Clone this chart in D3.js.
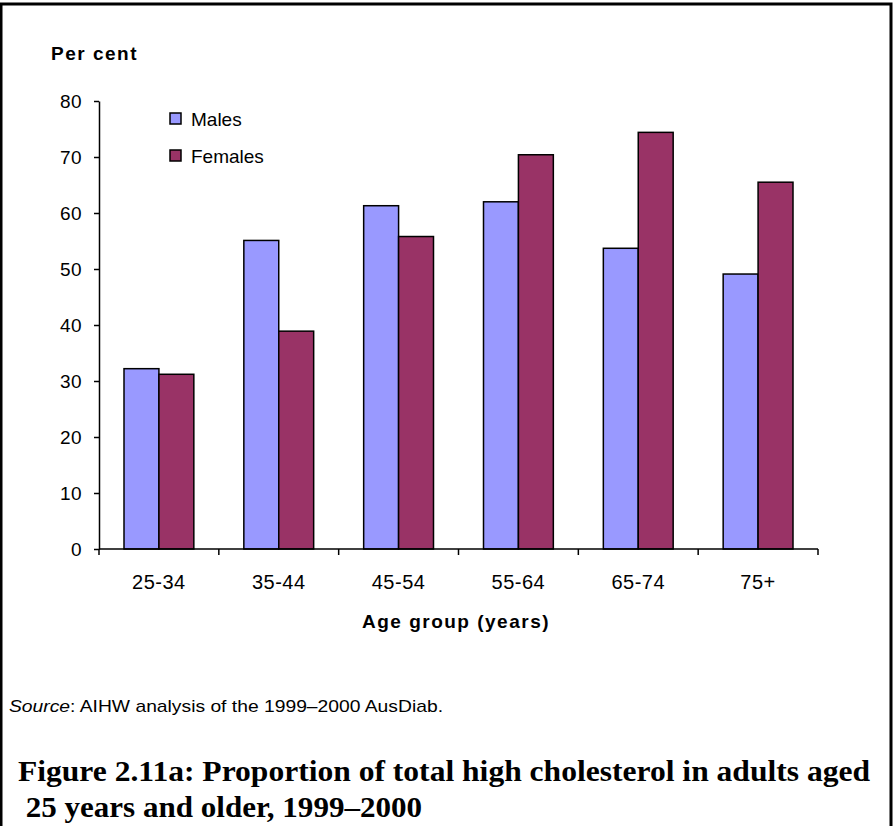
<!DOCTYPE html>
<html>
<head>
<meta charset="utf-8">
<script src="https://cdn.jsdelivr.net/npm/d3@7"></script>
<style>
  body { margin: 0; background: #fff; }
  svg { display: block; }
</style>
</head>
<body>
<div id="chart"></div>
<script>
const ageGroups = ["25-34", "35-44", "45-54", "55-64", "65-74", "75+"];
const males = [32.2, 55.1, 61.3, 62.0, 53.7, 49.1];
const females = [31.2, 38.9, 55.8, 70.4, 74.4, 65.5];
const seriesNames = ["Males", "Females"];
const yTicks = [0, 10, 20, 30, 40, 50, 60, 70, 80];

const width = 893;
const height = 826;
const colors = ["#9999ff", "#993366"];
const sans = "Arial, 'Liberation Sans', sans-serif";

const svg = d3
  .select("#chart")
  .append("svg")
  .attr("width", width)
  .attr("height", height);

// frame
svg.append("path")
  .attr("d", `M1,${height} V4 H891 V${height}`)
  .attr("fill", "none")
  .attr("stroke", "#000")
  .attr("stroke-width", 3);

const x0 = d3.scaleBand().domain(ageGroups).range([99, 818]);
const x1 = d3.scaleBand().domain(seriesNames).range([25, x0.bandwidth() - 25]);
const y = d3.scaleLinear().domain([0, 80]).range([549, 101]);

const data = ageGroups.map((g, i) => ({ group: g, values: [males[i], females[i]] }));

// bars
const groups = svg.append("g")
  .selectAll("g")
  .data(data)
  .join("g")
  .attr("transform", (d) => `translate(${x0(d.group)},0)`);

groups.selectAll("rect")
  .data((d) => d.values.map((v, j) => ({ name: seriesNames[j], value: v, j })))
  .join("rect")
  .attr("x", (d) => x1(d.name))
  .attr("y", (d) => y(d.value))
  .attr("width", x1.bandwidth())
  .attr("height", (d) => y(0) - y(d.value))
  .attr("fill", (d) => colors[d.j])
  .attr("stroke", "#000")
  .attr("stroke-width", 1.5);

// y axis
const yAxis = svg.append("g")
  .attr("transform", "translate(99,0)")
  .call(d3.axisLeft(y).tickValues(yTicks).tickSize(5).tickPadding(12).tickSizeOuter(0));
yAxis.select(".domain").attr("stroke", "#000").attr("stroke-width", 1.5);
yAxis.selectAll(".tick line").attr("stroke", "#000").attr("stroke-width", 1.5);
yAxis.selectAll("text")
  .attr("font-family", sans)
  .attr("font-size", 19)
  .attr("letter-spacing", 0.4)
  .attr("fill", "#000");

// x axis
const xAxis = svg.append("g").attr("transform", "translate(0,549)");
xAxis.append("line")
  .attr("x1", 99).attr("x2", 818)
  .attr("stroke", "#000").attr("stroke-width", 1.5);
xAxis.selectAll("line.tk")
  .data(ageGroups.concat(["end"]))
  .join("line")
  .attr("class", "tk")
  .attr("x1", (d, i) => (i < ageGroups.length ? x0(d) : x0.range()[1]))
  .attr("x2", (d, i) => (i < ageGroups.length ? x0(d) : x0.range()[1]))
  .attr("y1", 0).attr("y2", 6)
  .attr("stroke", "#000").attr("stroke-width", 1.5);
xAxis.selectAll("text")
  .data(ageGroups)
  .join("text")
  .attr("x", (d) => x0(d) + x0.bandwidth() / 2)
  .attr("y", 40)
  .attr("text-anchor", "middle")
  .attr("font-family", sans)
  .attr("font-size", 20)
  .attr("letter-spacing", 0.5)
  .text((d) => d);

// axis titles
svg.append("text")
  .attr("x", 51).attr("y", 60)
  .attr("font-family", sans)
  .attr("font-weight", "bold")
  .attr("font-size", 19)
  .attr("letter-spacing", 1.5)
  .text("Per cent");

svg.append("text")
  .attr("x", 456).attr("y", 628)
  .attr("text-anchor", "middle")
  .attr("font-family", sans)
  .attr("font-weight", "bold")
  .attr("font-size", 19)
  .attr("letter-spacing", 1.5)
  .text("Age group (years)");

// legend
const legend = svg.append("g")
  .selectAll("g")
  .data(seriesNames)
  .join("g")
  .attr("transform", (d, i) => `translate(170,${113 + i * 37})`);
legend.append("rect")
  .attr("width", 11).attr("height", 11)
  .attr("fill", (d, i) => colors[i])
  .attr("stroke", "#000").attr("stroke-width", 1.5);
legend.append("text")
  .attr("x", 21).attr("y", 13)
  .attr("font-family", sans)
  .attr("font-size", 19)
  .text((d) => d);

// source
const src = svg.append("text")
  .attr("x", 9).attr("y", 712)
  .attr("font-family", sans)
  .attr("font-size", 17)
  .attr("textLength", 434)
  .attr("lengthAdjust", "spacingAndGlyphs");
src.append("tspan").attr("font-style", "italic").text("Source");
src.append("tspan").text(": AIHW analysis of the 1999–2000 AusDiab.");

// figure title
const titleLines = [
  "Figure 2.11a: Proportion of total high cholesterol in adults aged",
  " 25 years and older, 1999–2000"
];
svg.append("g")
  .selectAll("text")
  .data(titleLines)
  .join("text")
  .attr("x", 18)
  .attr("y", (d, i) => 781 + i * 36)
  .attr("font-family", "'Liberation Serif', 'DejaVu Serif', serif")
  .attr("font-weight", "bold")
  .attr("font-size", 30)
  .attr("xml:space", "preserve")
  .style("white-space", "pre")
  .attr("textLength", (d, i) => (i === 0 ? 852 : 404))
  .attr("lengthAdjust", "spacingAndGlyphs")
  .text((d) => d);
</script>
</body>
</html>
